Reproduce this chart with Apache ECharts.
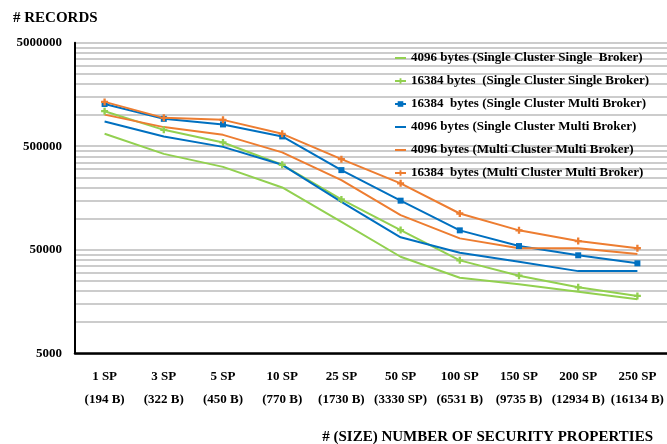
<!DOCTYPE html>
<html>
<head>
<meta charset="utf-8">
<script src="https://cdn.jsdelivr.net/npm/echarts@6/dist/echarts.min.js"></script>
<style>
    html, body {margin: 0; padding: 0; background: #fff;}
    #chart {width: 667px; height: 444px;}
</style>
</head>
<body>
<div id="chart"></div>
<script>
// categories (size of security properties)
const categories = ['1 SP\n(194 B)', '3 SP\n(322 B)', '5 SP\n(450 B)', '10 SP\n(770 B)', '25 SP\n(1730 B)',
    '50 SP\n(3330 SP)', '100 SP\n(6531 B)', '150 SP\n(9735 B)', '200 SP\n(12934 B)', '250 SP\n(16134 B)'];

// records per series
const scsb4096 = [659000, 422000, 316000, 200000, 93000, 42800, 26800, 23200, 19700, 16600];
const scsb16384 = [1090000, 720000, 544000, 331000, 153000, 77500, 39500, 28100, 21700, 17900];
const scmb16384 = [1280000, 919000, 812000, 622000, 294000, 149000, 77000, 54300, 44200, 37000];
const scmb4096 = [867000, 622000, 493000, 331000, 145000, 66000, 46800, 38300, 31100, 31100];
const mcmb4096 = [1010000, 765000, 644000, 436000, 235000, 108000, 64400, 51600, 51700, 45500];
const mcmb16384 = [1340000, 940000, 899000, 659000, 375000, 219000, 112000, 77000, 60700, 51700];

// y axis labels
const yLabels = [5000, 50000, 500000, 5000000];

const FONT = "'Liberation Serif', 'DejaVu Serif', serif";
const GREEN = '#92D050', BLUE = '#0070C0', ORANGE = '#ED7D31';
const PLUS = 'path://M2,0H4V2H6V4H4V6H2V4H0V2H2Z';

// gridlines: every 1..10 step inside each decade
let gridVals = [];
yLabels.slice(0, 3).forEach(d => {
    for (let k = 1; k <= 10; k++) gridVals.push(d * k);
});

let seriesList = [];
let legendData = [];

function addSeries(name, data, color, symbol) {
    seriesList.push({
        name: name,
        type: 'line',
        data: data,
        symbol: symbol || 'none',
        symbolSize: symbol === 'rect' ? 6 : 7,
        showSymbol: !!symbol,
        lineStyle: {color: color, width: 2},
        itemStyle: {color: color},
        animation: false
    });
    // plain lines get no marker in the legend
    legendData.push(symbol ? {name: name} : {name: name, itemStyle: {opacity: 0}});
}

addSeries('4096 bytes (Single Cluster Single  Broker)', scsb4096, GREEN);
addSeries('16384 bytes  (Single Cluster Single Broker)', scsb16384, GREEN, PLUS);
addSeries('16384  bytes (Single Cluster Multi Broker)', scmb16384, BLUE, 'rect');
addSeries('4096 bytes (Single Cluster Multi Broker)', scmb4096, BLUE);
addSeries('4096 bytes (Multi Cluster Multi Broker)', mcmb4096, ORANGE);
addSeries('16384  bytes (Multi Cluster Multi Broker)', mcmb16384, ORANGE, PLUS);

let chart = echarts.init(document.getElementById('chart'));
chart.setOption({
    animation: false,
    title: [
        {text: '# RECORDS', left: 8, top: 6, textStyle: {fontFamily: FONT, fontWeight: 'bold', fontSize: 15, color: '#000'}},
        {text: '# (SIZE) NUMBER OF SECURITY PROPERTIES', right: 9, top: 425,
            textStyle: {fontFamily: FONT, fontWeight: 'bold', fontSize: 15, color: '#000'}}
    ],
    grid: {left: 75, right: 0, top: 42.7, bottom: 90.7},
    legend: {
        orient: 'vertical',
        left: 389,
        top: 45,
        itemWidth: 11,
        itemHeight: 7,
        itemGap: 7,
        data: legendData,
        textStyle: {fontFamily: FONT, fontWeight: 'bold', fontSize: 13, color: '#000', lineHeight: 16}
    },
    xAxis: {
        type: 'category',
        data: categories,
        boundaryGap: true,
        axisLine: {lineStyle: {color: '#000', width: 2.5}},
        axisTick: {show: false},
        axisLabel: {fontFamily: FONT, fontWeight: 'bold', fontSize: 13, color: '#000', lineHeight: 23,
            margin: 12, interval: 0}
    },
    yAxis: {
        type: 'log',
        logBase: 10,
        min: 5000,
        max: 5000000,
        axisLine: {show: true, lineStyle: {color: '#000', width: 2}},
        axisTick: {show: false, customValues: gridVals},
        splitLine: {show: true, lineStyle: {color: '#cccccc', width: 2}},
        axisLabel: {customValues: yLabels, fontFamily: FONT, fontWeight: 'bold', fontSize: 13, color: '#000',
            margin: 13, formatter: v => String(Math.round(v))}
    },
    series: seriesList
});
</script>
</body>
</html>
